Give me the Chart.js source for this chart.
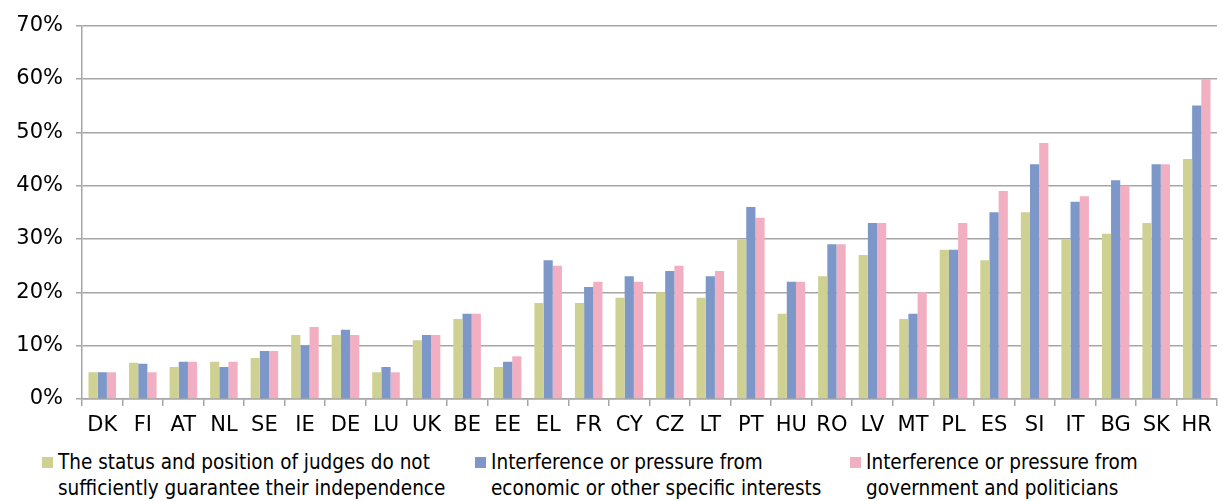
<!DOCTYPE html>
<html>
<head>
<meta charset="utf-8">
<script src="https://cdn.jsdelivr.net/npm/chart.js@4/dist/chart.umd.min.js"></script>
<style>
  html, body { margin: 0; padding: 0; background: #fff; }
  #wrap { position: relative; width: 1223px; height: 501px; }
  #chart-box { position: absolute; left: 0; top: 0; width: 1223px; height: 448px; }
  .legend { position: absolute; top: 448px; left: 0; width: 1223px; height: 53px;
    font-family: "DejaVu Sans Condensed", "DejaVu Sans"; font-size: 20.5px; color: #000; line-height: 26px; }
  .item { position: absolute; top: 1px; }
  .item .sw { position: absolute; left: 0; top: 8px; width: 11px; height: 11px; }
  .item .tx { position: absolute; left: 16px; top: 0; white-space: nowrap; }
</style>
</head>
<body>
<div id="wrap">
  <div id="chart-box"><canvas id="chart"></canvas></div>
  <div class="legend" id="legend"></div>
</div>
<script>
// Countries on the x axis
const countries = ["DK", "FI", "AT", "NL", "SE", "IE", "DE", "LU", "UK", "BE", "EE", "EL", "FR", "CY",
  "CZ", "LT", "PT", "HU", "RO", "LV", "MT", "PL", "ES", "SI", "IT", "BG", "SK", "HR"];

// Share of respondents (%) per reason
const statusJudges = [5, 6.8, 6, 7, 7.7, 12, 12, 5, 11, 15, 6, 18, 18, 19,
  20, 19, 30, 16, 23, 27, 15, 28, 26, 35, 30, 31, 33, 45];
const economicInterests = [5, 6.6, 7, 6, 9, 10, 13, 6, 12, 16, 7, 26, 21, 23,
  24, 23, 36, 22, 29, 33, 16, 28, 35, 44, 37, 41, 44, 55];
const government = [5, 5, 7, 7, 9, 13.5, 12, 5, 12, 16, 8, 25, 22, 22,
  25, 24, 34, 22, 29, 33, 20, 33, 39, 48, 38, 40, 44, 60];

const seriesLabels = [
  ["The status and position of judges do not", "sufficiently guarantee their independence"],
  ["Interference or pressure from", "economic or other specific interests"],
  ["Interference or pressure from", "government and politicians"],
];
const seriesColors = ["#cfd193", "#7d97c9", "#f3afc2"];
const yTicks = [0, 10, 20, 30, 40, 50, 60, 70];

function buildLegend() {
  const lefts = [42, 475, 850];
  const box = document.getElementById("legend");
  seriesLabels.forEach((lines, i) => {
    const item = document.createElement("div");
    item.className = "item";
    item.style.left = lefts[i] + "px";
    item.innerHTML = '<div class="sw" style="background:' + seriesColors[i] + '"></div>' +
      '<div class="tx">' + lines.join("<br>") + "</div>";
    box.appendChild(item);
  });
}

function plotChart() {
  const ctx = document.getElementById("chart").getContext("2d");
  const values = [statusJudges, economicInterests, government];

  new Chart(ctx, {
    type: "bar",
    data: {
      labels: countries,
      datasets: values.map((v, i) => ({
        label: seriesLabels[i].join(" "),
        data: v,
        backgroundColor: seriesColors[i],
        borderWidth: 0,
        barPercentage: 1.0,
        categoryPercentage: 0.68,
      })),
    },
    options: {
      responsive: true,
      maintainAspectRatio: false,
      animation: false,
      layout: { padding: { top: 13, right: 6, left: 0, bottom: 0 } },
      plugins: { legend: { display: false }, tooltip: { enabled: false } },
      scales: {
        x: {
          grid: { offset: true, drawOnChartArea: false, color: "#a6a6a6", lineWidth: 1.5, tickLength: 7 },
          border: { color: "#a6a6a6", width: 1.5 },
          ticks: { color: "#000", font: { family: "DejaVu Sans", size: 21 }, padding: 7, maxRotation: 0, autoSkip: false },
          afterFit: (scale) => { scale.height = 49; },
        },
        y: {
          min: 0,
          max: 70,
          afterBuildTicks: (scale) => { scale.ticks = yTicks.map((v) => ({ value: v })); },
          grid: { color: "#a6a6a6", lineWidth: 1.5, tickLength: 6 },
          border: { color: "#a6a6a6", width: 1.5 },
          ticks: {
            color: "#000",
            font: { family: "DejaVu Sans", size: 21 },
            padding: 13,
            callback: (v) => v + "%",
          },
          afterFit: (scale) => { scale.width = 82; },
        },
      },
    },
  });
}

document.addEventListener("DOMContentLoaded", () => {
  buildLegend();
  plotChart();
});
</script>
</body>
</html>
